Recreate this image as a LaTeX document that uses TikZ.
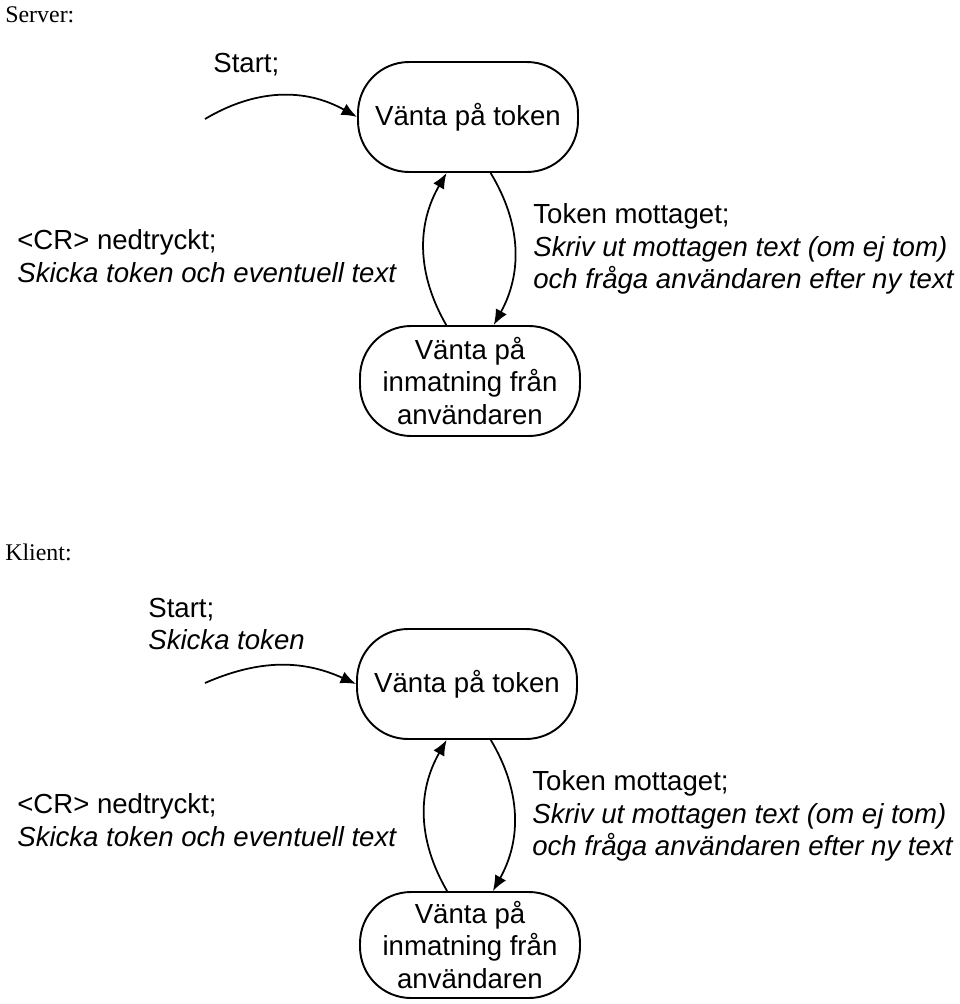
\documentclass[tikz,border=0pt]{standalone}
\usepackage{fontspec}
\setmainfont{Liberation Sans}
\newfontfamily\labelfont{Liberation Serif}
\usetikzlibrary{arrows.meta}

\begin{document}
\begin{tikzpicture}[
    x=0.02cm, y=-0.02cm,
    state/.style={rectangle, draw=black, line width=1.1pt, rounded corners=1.02cm, minimum width=4.4cm, minimum height=2.2cm, align=center, inner sep=0pt},
    txt/.style={anchor=west, align=left, inner sep=0pt},
    title/.style={anchor=west, inner sep=0pt, font=\labelfont\fontsize{13.6}{16}\selectfont},
    arrow/.style={line width=1pt, -{Latex[length=3.1mm,width=2.5mm]}},
    font=\fontsize{15.7}{18.6}\selectfont
]
\useasboundingbox (0,0) rectangle (960,1004);
% Server
\node[title] (server) at (5,15) {Server:};
\node[txt] (sstart) at (213,65) {Start;};
\coordinate (sfrom) at (205,119);
\node[state] (stoken) at (468,117) {Vänta på token};
\node[state] (sinput) at (470,381) {Vänta på\\inmatning från\\användaren};
\node[txt] (scr) at (17,256) {<CR> nedtryckt;\\\textit{Skicka token och eventuell text}};
\node[txt] (srecv) at (533,249) {Token mottaget;\\\textit{Skriv ut mottagen text (om ej tom)}\\\textit{och fråga användaren efter ny text}};
% Klient
\node[title] (klient) at (5,552) {Klient:};
\node[txt] (kstart) at (148,624) {Start;\\\textit{Skicka token}};
\coordinate (kfrom) at (205,683);
\node[state] (ktoken) at (467,684) {Vänta på token};
\node[state, minimum height=2.12cm] (kinput) at (470,945) {Vänta på\\inmatning från\\användaren};
\node[txt] (kcr) at (17,820) {<CR> nedtryckt;\\\textit{Skicka token och eventuell text}};
\node[txt] (krecv) at (532,816) {Token mottaget;\\\textit{Skriv ut mottagen text (om ej tom)}\\\textit{och fråga användaren efter ny text}};
% Arrows
\draw[arrow] (sfrom) to[bend left=30] (stoken.west);
\draw[arrow] (sinput.113) to[bend left=30] (stoken.249);
\draw[arrow] (stoken.292) to[bend left=30] (sinput.67);
\draw[arrow] (kfrom) to[bend left=24] (ktoken.west);
\draw[arrow] (kinput.113) to[bend left=30] (ktoken.250);
\draw[arrow] (ktoken.293) to[bend left=30] (kinput.67);
\end{tikzpicture}
\end{document}
